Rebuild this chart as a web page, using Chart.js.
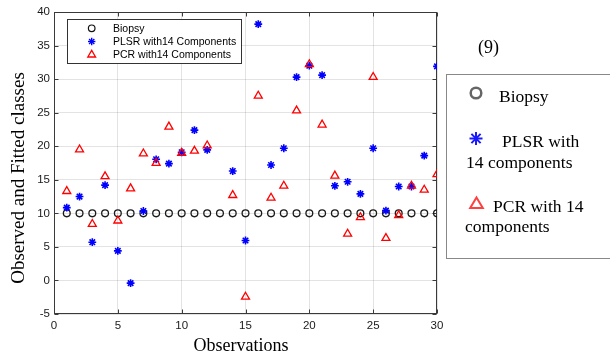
<!DOCTYPE html>
<html><head><meta charset="utf-8">
<script src="https://cdn.jsdelivr.net/npm/chart.js@4.4.1/dist/chart.umd.min.js"></script>
<style>
html,body{margin:0;padding:0;background:#fff;}
#wrap{position:relative;width:610px;height:353px;overflow:hidden;background:#fff;}
#c{position:absolute;left:0;top:0;}
#ov{position:absolute;left:0;top:0;}
</style></head>
<body>
<div id="wrap">
<canvas id="c" width="610" height="353"></canvas>
<svg id="ov" width="610" height="353" xmlns="http://www.w3.org/2000/svg">
  <!-- axis titles -->
  <text x="241" y="351" text-anchor="middle" font-family="Liberation Serif, Times New Roman, serif" font-size="18" fill="#000">Observations</text>
  <text transform="translate(23.5,178) rotate(-90)" text-anchor="middle" font-family="Liberation Serif, Times New Roman, serif" font-size="19" fill="#000">Observed and Fitted classes</text>
  <!-- inner legend -->
  <rect x="67.5" y="19.5" width="174" height="44" fill="#fff" stroke="#333" stroke-width="1"/>
  <circle cx="91.7" cy="28.3" r="3.3" fill="none" stroke="#111" stroke-width="1.2"/>
  <g stroke="#0000ff" stroke-width="1.4">
    <line x1="88" y1="41.5" x2="95.4" y2="41.5"/><line x1="91.7" y1="37.8" x2="91.7" y2="45.2"/>
    <line x1="89.1" y1="38.9" x2="94.3" y2="44.1"/><line x1="89.1" y1="44.1" x2="94.3" y2="38.9"/>
  </g>
  <polygon points="91.7,50.3 95.6,57 87.8,57" fill="none" stroke="#ff0000" stroke-width="1.3"/>
  <g font-family="Liberation Sans, Arial, sans-serif" font-size="10.5" fill="#000">
    <text x="113" y="32">Biopsy</text>
    <text x="113" y="45.3">PLSR with14 Components</text>
    <text x="113" y="58.3">PCR with14 Components</text>
  </g>
  <!-- right panel -->
  <text x="478" y="53" font-family="Liberation Serif, Times New Roman, serif" font-size="18" fill="#000">(9)</text>
  <rect x="446.5" y="74.5" width="170" height="184" fill="none" stroke="#888" stroke-width="1"/>
  <circle cx="476" cy="93" r="5.3" fill="none" stroke="#666" stroke-width="2.5"/>
  <g stroke="#1a1aff" stroke-width="2">
    <line x1="469.5" y1="138.5" x2="482.5" y2="138.5"/><line x1="476" y1="132" x2="476" y2="145"/>
    <line x1="471.4" y1="133.9" x2="480.6" y2="143.1"/><line x1="471.4" y1="143.1" x2="480.6" y2="133.9"/>
  </g>
  <polygon points="476.5,197.5 482.8,208 470.2,208" fill="none" stroke="#ff4040" stroke-width="2"/>
  <g font-family="Liberation Serif, Times New Roman, serif" font-size="17.5" fill="#000">
    <text x="499" y="102">Biopsy</text>
    <text x="502" y="146.5">PLSR with</text>
    <text x="466" y="168">14 components</text>
    <text x="493" y="212">PCR with 14</text>
    <text x="465" y="232">components</text>
  </g>
</svg>
</div>
<script>
// ---- data ----
const observations = [1,2,3,4,5,6,7,8,9,10,11,12,13,14,15,16,17,18,19,20,21,22,23,24,25,26,27,28,29,30];
const biopsy = [10,10,10,10,10,10,10,10,10,10,10,10,10,10,10,10,10,10,10,10,10,10,10,10,10,10,10,10,10,10];
const plsr = [10.85,12.5,5.7,14.2,4.4,-0.4,10.35,18.05,17.4,19.1,22.4,19.45,null,16.3,5.95,38.2,17.2,19.7,30.3,32.0,30.6,14.1,14.7,12.9,19.7,10.4,14.0,14.0,18.6,31.9];
const pcr = [13.3,19.5,8.4,15.5,8.9,13.7,18.9,17.5,22.9,19.0,19.3,20.1,null,12.7,-2.45,27.5,12.3,14.1,25.3,32.2,23.2,15.6,6.95,9.4,30.3,6.3,9.7,14.1,13.5,15.8];
const xTickValues = [0,5,10,15,20,25,30];
const yTickValues = [-5,0,5,10,15,20,25,30,35,40];

function toPoints(vals){
  const out = [];
  observations.forEach((o,i)=>{ if(vals[i]!==null) out.push({x:o,y:vals[i]}); });
  return out;
}

const boxPlugin = {
  id:'box',
  beforeDatasetsDraw(chart){
    const {ctx, chartArea:a, scales} = chart;
    const L=Math.round(a.left)+0.5, R=Math.round(a.right)-0.5, T=Math.round(a.top)+0.5, B=Math.round(a.bottom)-0.5;
    ctx.save();
    ctx.strokeStyle='#3a3a3a'; ctx.lineWidth=1;
    ctx.strokeRect(L, T, R-L, B-T);
    ctx.beginPath();
    xTickValues.forEach(v=>{
      const px = Math.round(scales.x.getPixelForValue(v))+0.5;
      ctx.moveTo(px,B); ctx.lineTo(px,B-4);
      ctx.moveTo(px,T); ctx.lineTo(px,T+4);
    });
    yTickValues.forEach(v=>{
      const py = Math.round(scales.y.getPixelForValue(v))+0.5;
      ctx.moveTo(L,py); ctx.lineTo(L+4,py);
      ctx.moveTo(R,py); ctx.lineTo(R-4,py);
    });
    ctx.stroke();
    ctx.restore();
  }
};

const tickFont = {family:'Liberation Sans, Arial, sans-serif', size:11.5};

new Chart(document.getElementById('c'), {
  type:'scatter',
  data:{
    datasets:[
      {label:'Biopsy', data:toPoints(biopsy), pointStyle:'circle', pointRadius:3.4, borderColor:'#1a1a1a', backgroundColor:'rgba(0,0,0,0)', pointBorderWidth:1.3, order:3},
      {label:'PLSR with14 Components', data:toPoints(plsr), pointStyle:'star', pointRadius:3.9, borderColor:'#0000ff', backgroundColor:'#0000ff', pointBorderWidth:1.6, order:2},
      {label:'PCR with14 Components', data:toPoints(pcr), pointStyle:'triangle', pointRadius:4.6, borderColor:'#ff0000', backgroundColor:'rgba(0,0,0,0)', pointBorderWidth:1.3, order:1}
    ]
  },
  options:{
    responsive:false,
    animation:false,
    devicePixelRatio:1,
    layout:{padding:{left:0, top:12, right:173, bottom:0}},
    plugins:{legend:{display:false}, tooltip:{enabled:false}},
    scales:{
      x:{
        type:'linear', min:0, max:30,
        afterBuildTicks(s){ s.ticks = xTickValues.map(v=>({value:v})); },
        afterFit(s){ s.height = 39; },
        ticks:{font:tickFont, color:'#1a1a1a', padding:5, maxRotation:0, autoSkip:false},
        grid:{color:'rgba(0,0,0,0.11)', lineWidth:1, drawTicks:false},
        border:{display:false}
      },
      y:{
        type:'linear', min:-5, max:40,
        afterBuildTicks(s){ s.ticks = yTickValues.map(v=>({value:v})); },
        afterFit(s){ s.width = 54; },
        ticks:{font:tickFont, color:'#1a1a1a', padding:4, autoSkip:false},
        grid:{color:'rgba(0,0,0,0.11)', lineWidth:1, drawTicks:false},
        border:{display:false}
      }
    }
  },
  plugins:[boxPlugin]
});
</script>
</body></html>
